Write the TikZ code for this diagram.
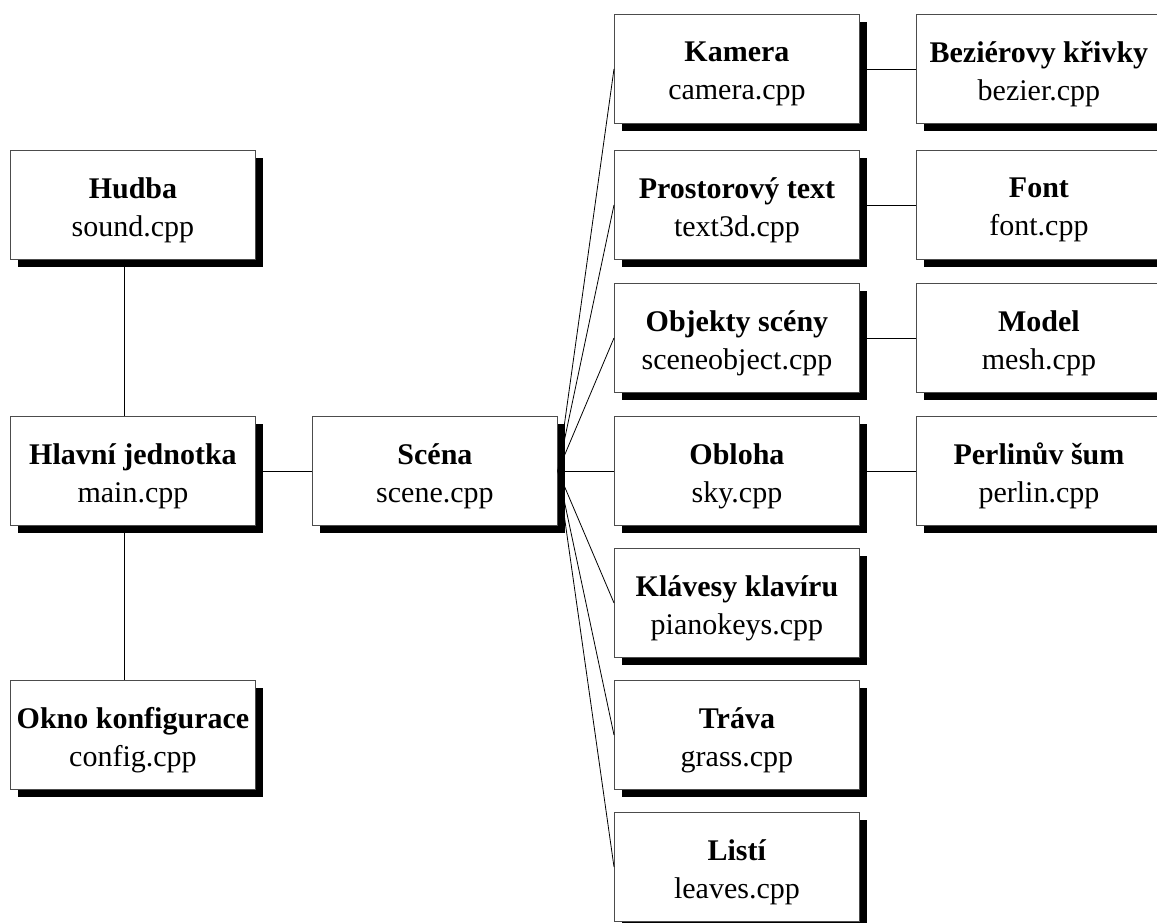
\documentclass[tikz,border=0pt]{standalone}
\usepackage{fontspec}
\setmainfont{Liberation Serif}
% module box: name, left, top, title, source file
\newcommand\modbox[5]{%
  \node[shadowbox] (#1-s) at (#2+8,-#3-8) {};
  \node[modbox] (#1) at (#2,-#3) {};
  \node[modtext] (#1-t) at ([yshift=-5pt]#1.center) {\textbf{#4}\\#5};
}
\begin{document}
\begin{tikzpicture}[x=1pt,y=1pt,
  modbox/.style={draw=black!70, line width=0.9pt, fill=white,
    minimum width=245pt, minimum height=109pt, inner sep=0pt, anchor=north west},
  shadowbox/.style={fill=black, minimum width=245pt, minimum height=109pt,
    inner sep=0pt, anchor=north west},
  modtext/.style={font=\fontsize{30}{38}\selectfont, align=center, inner sep=0pt},
  link/.style={draw=black, line width=0.8pt}]
\useasboundingbox (0,0) rectangle (1157,-922);
\clip (0,0) rectangle (1157,-922);

% left column
\modbox{hudba}{10}{150}{Hudba}{sound.cpp}
\modbox{main}{10}{416}{Hlavní jednotka}{main.cpp}
\modbox{config}{10}{680}{Okno konfigurace}{config.cpp}

% scene
\modbox{scene}{312}{416}{Scéna}{scene.cpp}

% scene parts
\modbox{camera}{614}{14}{Kamera}{camera.cpp}
\modbox{text3d}{614}{150}{Prostorový text}{text3d.cpp}
\modbox{sceneobj}{614}{283}{Objekty scény}{sceneobject.cpp}
\modbox{sky}{614}{416}{Obloha}{sky.cpp}
\modbox{piano}{614}{548}{Klávesy klavíru}{pianokeys.cpp}
\modbox{grass}{614}{680}{Tráva}{grass.cpp}
\modbox{leaves}{614}{812}{Listí}{leaves.cpp}

% helper units
\modbox{bezier}{916}{14}{Beziérovy křivky}{bezier.cpp}
\modbox{font}{916}{150}{Font}{font.cpp}
\modbox{mesh}{916}{283}{Model}{mesh.cpp}
\modbox{perlin}{916}{416}{Perlinův šum}{perlin.cpp}

% connections
\draw[link] ([xshift=-8.5pt]hudba.south) -- ([xshift=-8.5pt]main.north);
\draw[link] ([xshift=-8.5pt]main.south) -- ([xshift=-8.5pt]config.north);
\draw[link] (main.east) -- (scene.west);
\foreach \n in {camera,text3d,sceneobj,sky,piano,grass,leaves}
  \draw[link] (scene.east) -- (\n.west);
\draw[link] (camera.east) -- (bezier.west);
\draw[link] (text3d.east) -- (font.west);
\draw[link] (sceneobj.east) -- (mesh.west);
\draw[link] (sky.east) -- (perlin.west);
\end{tikzpicture}
\end{document}
